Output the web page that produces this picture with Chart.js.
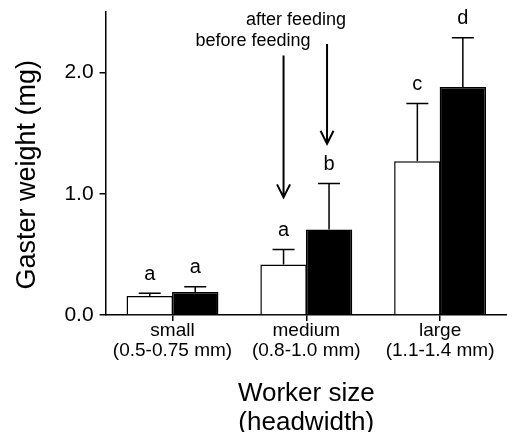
<!DOCTYPE html>
<html>
<head>
<meta charset="utf-8">
<script src="https://cdn.jsdelivr.net/npm/chart.js@4"></script>
<style>
  html, body { margin: 0; padding: 0; background: #fff; }
  #wrap { position: relative; width: 507px; height: 432px; }
</style>
</head>
<body>
<div id="wrap"><canvas id="grafico"></canvas></div>
<script>
const categorias = [
  ["small", "(0.5-0.75 mm)"],
  ["medium", "(0.8-1.0 mm)"],
  ["large", "(1.1-1.4 mm)"],
];

const antesComer = [0.156, 0.417, 1.268];
const despuesComer = [0.19, 0.704, 1.882];

const errorAntes = [0.022, 0.123, 0.477];
const errorDespues = [0.043, 0.381, 0.405];

const letrasAntes = ["a", "a", "c"];
const letrasDespues = ["a", "b", "d"];

const ticksY = [0, 1, 2];

// flechas: [texto, valor inicio, valor punta, valor texto]
const flechaAntes = ["before feeding", 2.14, 0.97, 2.26];
const flechaDespues = ["after feeding", 2.235, 1.413, 2.43];

const fuente = "'Liberation Sans', Arial, Helvetica, sans-serif";

/*
  =========================
     BARRAS DE ERROR Y LETRAS
  =========================
*/
const pluginErrores = {
  id: "errores",
  afterDatasetsDraw(chart) {
    const ctx = chart.ctx;
    const y = chart.scales.y;
    const errores = [errorAntes, errorDespues];
    const letras = [letrasAntes, letrasDespues];

    ctx.save();
    ctx.strokeStyle = "#000";
    ctx.lineWidth = 1.5;
    ctx.fillStyle = "#000";
    ctx.font = "20px " + fuente;
    ctx.textAlign = "center";
    ctx.textBaseline = "middle";

    chart.data.datasets.forEach((ds, i) => {
      const meta = chart.getDatasetMeta(i);
      meta.data.forEach((barra, j) => {
        const arriba = y.getPixelForValue(ds.data[j] + errores[i][j]);
        ctx.beginPath();
        ctx.moveTo(barra.x, barra.y);
        ctx.lineTo(barra.x, arriba);
        ctx.moveTo(barra.x - 11, arriba);
        ctx.lineTo(barra.x + 11, arriba);
        ctx.stroke();
        ctx.fillText(letras[i][j], barra.x, arriba - 19);
      });
    });

    // flechas sobre el grupo "medium"
    const dibujarFlecha = (x, f, alinear, dx) => {
      const y0 = y.getPixelForValue(f[1]);
      const y1 = y.getPixelForValue(f[2]);
      ctx.lineWidth = 2;
      ctx.beginPath();
      ctx.moveTo(x, y0);
      ctx.lineTo(x, y1);
      ctx.moveTo(x - 6.5, y1 - 13);
      ctx.lineTo(x, y1);
      ctx.lineTo(x + 6.5, y1 - 13);
      ctx.stroke();
      ctx.font = "18px " + fuente;
      ctx.textAlign = alinear;
      ctx.fillText(f[0], x + dx, y.getPixelForValue(f[3]));
    };

    const xAntes = chart.getDatasetMeta(0).data[1].x;
    const xDespues = chart.getDatasetMeta(1).data[1].x;
    dibujarFlecha(xAntes, flechaAntes, "right", 27);
    dibujarFlecha(xDespues - 2, flechaDespues, "center", -31);

    ctx.restore();
  },
};

new Chart(document.getElementById("grafico"), {
  type: "bar",
  data: {
    labels: categorias,
    datasets: [
      {
        label: "before feeding",
        data: antesComer,
        backgroundColor: "#fff",
        borderColor: "#000",
        borderWidth: 1.5,
      },
      {
        label: "after feeding",
        data: despuesComer,
        backgroundColor: "#000",
        borderColor: "#000",
        borderWidth: 1.5,
      },
    ],
  },
  options: {
    responsive: true,
    maintainAspectRatio: false,
    animation: false,
    categoryPercentage: 0.68,
    barPercentage: 1.02,
    layout: {
      padding: { left: 4, top: 12, right: 0, bottom: -5 },
    },
    plugins: {
      legend: { display: false },
      tooltip: { enabled: false },
    },
    scales: {
      x: {
        grid: {
          drawOnChartArea: false,
          offset: false,
          tickLength: 6,
          color: "#000",
          lineWidth: 1.5,
        },
        border: { color: "#000", width: 1.5 },
        ticks: {
          color: "#000",
          padding: 0,
          maxRotation: 0,
          font: { family: fuente, size: 19, lineHeight: 1.05 },
        },
        title: {
          display: true,
          text: ["Worker size", "(headwidth)"],
          color: "#000",
          padding: { top: 19, bottom: 0 },
          font: { family: fuente, size: 26, lineHeight: 1.1 },
        },
      },
      y: {
        min: 0,
        max: 2.5,
        afterBuildTicks: (scale) => {
          scale.ticks = ticksY.map((v) => ({ value: v }));
        },
        afterFit: (scale) => {
          scale.paddingTop = 0;
        },
        grid: {
          drawOnChartArea: false,
          tickLength: 6,
          color: "#000",
          lineWidth: 1.5,
        },
        border: { color: "#000", width: 1.5 },
        ticks: {
          color: "#000",
          padding: 6,
          font: { family: fuente, size: 21 },
          callback: (v) => Number(v).toFixed(1),
        },
        title: {
          display: true,
          // espacios finales: bajan un poco el título, como en el original
          text: "Gaster weight (mg)   ",
          color: "#000",
          padding: { top: 7, bottom: 15 },
          font: { family: fuente, size: 27, lineHeight: 1.2 },
        },
      },
    },
  },
  plugins: [pluginErrores],
});
</script>
</body>
</html>
